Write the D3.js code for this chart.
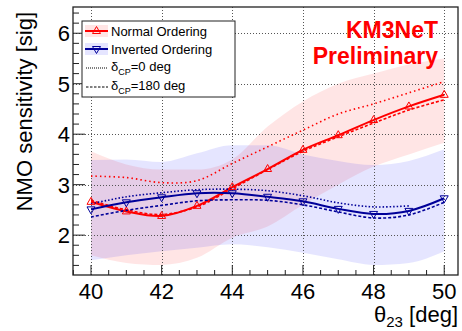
<!DOCTYPE html>
<html>
<head>
<meta charset="utf-8">
<script src="https://cdn.jsdelivr.net/npm/d3@7"></script>
<style>
  body { margin: 0; background: #fff; }
  text { font-family: "Liberation Sans", Arial, Helvetica, sans-serif; }
</style>
</head>
<body>
<script>
// theta23 grid points [deg]
const theta = [40, 41, 42, 43, 44, 45, 46, 47, 48, 49, 50];

// Normal ordering
const noCentral = [2.66, 2.47, 2.38, 2.58, 2.95, 3.31, 3.69, 3.98, 4.28, 4.55, 4.78];
const noDcp0    = [3.17, 3.14, 3.04, 3.08, 3.42, 3.75, 4.08, 4.40, 4.60, 4.82, 5.04];
const noDcp180  = [2.69, 2.50, 2.41, 2.56, 2.92, 3.30, 3.66, 3.95, 4.22, 4.48, 4.68];
const noBandLo  = [1.60, 1.45, 1.41, 1.55, 1.95, 2.17, 2.60, 3.00, 3.36, 3.60, 3.83];
const noBandHi  = [3.66, 3.40, 3.30, 3.30, 3.50, 4.15, 4.65, 5.00, 5.20, 5.38, 5.50];

// Inverted ordering
const ioCentral = [2.51, 2.65, 2.75, 2.83, 2.83, 2.76, 2.67, 2.52, 2.42, 2.48, 2.73];
const ioDcp0    = [2.62, 2.76, 2.84, 2.90, 2.91, 2.88, 2.78, 2.64, 2.56, 2.58];   // ends at 49
const ioDcp180  = [2.36, 2.49, 2.59, 2.68, 2.70, 2.69, 2.60, 2.46, 2.34, 2.40, 2.65];
const ioBandLo  = [1.50, 1.60, 1.68, 1.75, 1.82, 1.76, 1.65, 1.52, 1.41, 1.45, 1.68];
const ioBandHi  = [3.49, 3.50, 3.45, 3.62, 3.78, 3.78, 3.60, 3.47, 3.39, 3.47, 3.70];

const xTicks = [40, 42, 44, 46, 48, 50];
const yTicks = [2, 3, 4, 5, 6];

const width = 462, height = 331;
const frame = { left: 73, right: 458, top: 7, bottom: 275 };

const x = d3.scaleLinear().domain([39.49, 50.39]).range([frame.left, frame.right]);
const y = d3.scaleLinear().domain([1.21, 6.52]).range([frame.bottom, frame.top]);

const red = "#ff0000", blue = "#000099";

let svg = d3.select("body").append("svg")
    .attr("width", width)
    .attr("height", height);

// bands
let band = (lo, hi) => d3.area()
    .x((d, i) => x(theta[i]))
    .y0((d, i) => y(lo[i]))
    .y1((d, i) => y(hi[i]))
    .curve(d3.curveMonotoneX)(theta);

svg.append("path").attr("d", band(noBandLo, noBandHi))
    .attr("fill", red).attr("fill-opacity", 0.1);
svg.append("path").attr("d", band(ioBandLo, ioBandHi))
    .attr("fill", "#0000ff").attr("fill-opacity", 0.1);

// grid
let grid = svg.append("g")
    .attr("stroke", "#555").attr("stroke-width", 1).attr("stroke-dasharray", "1,2");
grid.selectAll(".gx").data(xTicks).enter().append("line")
    .attr("x1", d => Math.round(x(d)) + 0.5).attr("x2", d => Math.round(x(d)) + 0.5)
    .attr("y1", frame.top).attr("y2", frame.bottom);
grid.selectAll(".gy").data(yTicks).enter().append("line")
    .attr("y1", d => Math.round(y(d)) + 0.5).attr("y2", d => Math.round(y(d)) + 0.5)
    .attr("x1", frame.left).attr("x2", frame.right);

// lines
let line = vals => d3.line()
    .x((d, i) => x(theta[i]))
    .y(d => y(d))
    .curve(d3.curveCatmullRom)(vals);

let series = [
  { vals: noDcp0,    color: red,  dash: "1.5,3", w: 1.6 },
  { vals: noDcp180,  color: red,  dash: "3,2",   w: 1.6 },
  { vals: noCentral, color: red,  dash: null,    w: 2 },
  { vals: ioDcp0,    color: blue, dash: "1.5,2", w: 1.6 },
  { vals: ioDcp180,  color: blue, dash: "3,2",   w: 1.6 },
  { vals: ioCentral, color: blue, dash: null,    w: 2 }
];

series.forEach(s => {
  svg.append("path")
      .attr("d", line(s.vals))
      .attr("fill", "none")
      .attr("stroke", s.color)
      .attr("stroke-width", s.w)
      .attr("stroke-dasharray", s.dash);
});

// markers
let triUp = "M0,-4.5L4,2.5L-4,2.5Z";
let triDown = "M0,4.5L4,-2.5L-4,-2.5Z";

svg.selectAll(".mno").data(noCentral).enter().append("path")
    .attr("d", triUp)
    .attr("transform", (d, i) => "translate(" + x(theta[i]) + "," + y(d) + ")")
    .attr("fill", "none").attr("stroke", red).attr("stroke-width", 1);

svg.selectAll(".mio").data(ioCentral).enter().append("path")
    .attr("d", triDown)
    .attr("transform", (d, i) => "translate(" + x(theta[i]) + "," + y(d) + ")")
    .attr("fill", "none").attr("stroke", blue).attr("stroke-width", 1);

// frame
svg.append("rect")
    .attr("x", frame.left).attr("y", frame.top)
    .attr("width", frame.right - frame.left).attr("height", frame.bottom - frame.top)
    .attr("fill", "none").attr("stroke", "#222").attr("stroke-width", 1.3);

// y ticks (inside frame)
let yMinor = d3.range(1.4, 6.5, 0.2).map(v => +v.toFixed(1));
svg.append("g").selectAll("line").data(yMinor).enter().append("line")
    .attr("x1", frame.left)
    .attr("x2", d => frame.left + (yTicks.includes(Math.round(d * 10) / 10) ? 12 : 6))
    .attr("y1", d => y(d)).attr("y2", d => y(d))
    .attr("stroke", "#222").attr("stroke-width", 1);

svg.append("g").selectAll("text").data(yTicks).enter().append("text")
    .attr("x", 70).attr("y", d => y(d) + 8)
    .attr("text-anchor", "end")
    .attr("font-size", 22)
    .text(d => d);

// x ticks
let xMinor = d3.range(39.5, 50.5, 0.5);
svg.append("g").selectAll("line").data(xMinor).enter().append("line")
    .attr("x1", d => x(d)).attr("x2", d => x(d))
    .attr("y1", frame.bottom)
    .attr("y2", d => frame.bottom - (xTicks.includes(d) ? 10 : 5))
    .attr("stroke", "#222").attr("stroke-width", 1);

svg.append("g").selectAll("text").data(xTicks).enter().append("text")
    .attr("x", d => x(d)).attr("y", 299)
    .attr("text-anchor", "middle")
    .attr("font-size", 22)
    .text(d => d);

// axis titles
let xt = svg.append("text")
    .attr("x", 458).attr("y", 322)
    .attr("text-anchor", "end")
    .attr("font-size", 22);
xt.append("tspan").text("θ");
xt.append("tspan").attr("font-size", 15).attr("dy", 5).text("23");
xt.append("tspan").attr("dy", -5).text(" [deg]");

svg.append("text")
    .attr("transform", "translate(32,12) rotate(-90)")
    .attr("text-anchor", "end")
    .attr("font-size", 22)
    .text("NMO sensitivity [sig]");

// KM3NeT label
svg.append("text")
    .attr("x", 438).attr("y", 38)
    .attr("text-anchor", "end")
    .attr("font-size", 23).attr("font-weight", "bold")
    .attr("fill", red)
    .text("KM3NeT");
svg.append("text")
    .attr("x", 438).attr("y", 64)
    .attr("text-anchor", "end")
    .attr("font-size", 23).attr("font-weight", "bold")
    .attr("fill", red)
    .text("Preliminary");

// legend
let lg = svg.append("g");
lg.append("rect")
    .attr("x", 82).attr("y", 21).attr("width", 153).attr("height", 76)
    .attr("fill", "#fff").attr("stroke", "#222").attr("stroke-width", 1);

let legendRows = [
  { cy: 31, label: "Normal Ordering", color: red, fill: red, marker: triUp },
  { cy: 49, label: "Inverted Ordering", color: blue, fill: "#0000ff", marker: triDown },
  { cy: 68, sub: "=0 deg", dash: "1,1" },
  { cy: 87, sub: "=180 deg", dash: "2.5,1.5" }
];

legendRows.forEach(r => {
  if (r.fill) {
    lg.append("rect")
        .attr("x", 85).attr("y", r.cy - 6).attr("width", 23).attr("height", 12)
        .attr("fill", r.fill).attr("fill-opacity", 0.1);
    lg.append("line")
        .attr("x1", 85).attr("x2", 108).attr("y1", r.cy).attr("y2", r.cy)
        .attr("stroke", r.color).attr("stroke-width", 2);
    lg.append("path").attr("d", r.marker)
        .attr("transform", "translate(96.5," + r.cy + ")")
        .attr("fill", "none").attr("stroke", r.color).attr("stroke-width", 1);
    lg.append("text")
        .attr("x", 111).attr("y", r.cy + 4.5)
        .attr("font-size", 13)
        .text(r.label);
  } else {
    lg.append("line")
        .attr("x1", 86).attr("x2", 108).attr("y1", r.cy).attr("y2", r.cy)
        .attr("stroke", "#000").attr("stroke-width", 1)
        .attr("stroke-dasharray", r.dash);
    let t = lg.append("text")
        .attr("x", 111).attr("y", r.cy + 3)
        .attr("font-size", 13);
    t.append("tspan").text("δ");
    t.append("tspan").attr("font-size", 9).attr("dy", 4).text("CP");
    t.append("tspan").attr("dy", -4).text(r.sub);
  }
});
</script>
</body>
</html>
